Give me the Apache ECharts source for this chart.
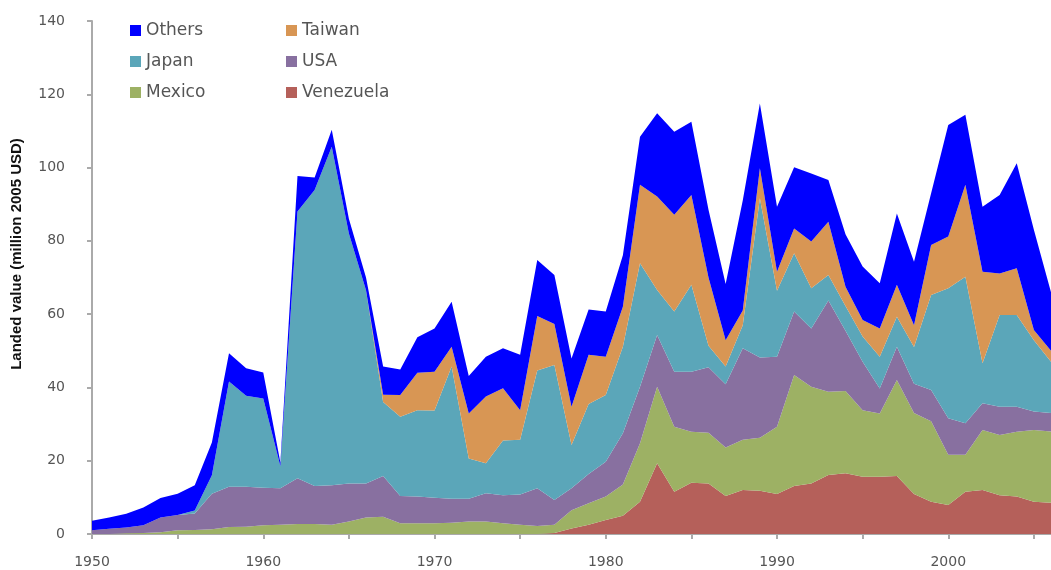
<!DOCTYPE html>
<html>
<head>
<meta charset="utf-8">
<script src="https://cdn.jsdelivr.net/npm/echarts@6/dist/echarts.min.js"></script>
<style>
  html, body { margin: 0; padding: 0; background: #fff; }
  #chart { width: 1051px; height: 570px; }
</style>
</head>
<body>
<div id="chart"></div>
<script>
// years 1950..2006 (2006 is cut off by the right edge)
var years = [];
for (var y = 1950; y <= 2006; y++) years.push(String(y));

// landed value, million 2005 USD
var venezuela = [0, 0, 0, 0, 0, 0, 0, 0, 0, 0,
  0, 0, 0, 0, 0, 0, 0, 0, 0, 0,
  0, 0, 0, 0, 0, 0, 0, 0.3, 1.5, 2.5,
  3.8, 5.0, 8.8, 19.3, 11.5, 14.0, 13.8, 10.4, 12.0, 11.8,
  10.9, 13.1, 13.8, 16.1, 16.6, 15.6, 15.6, 15.8, 10.9, 8.8,
  7.9, 11.5, 12.0, 10.6, 10.2, 8.8, 8.5];
var mexico = [0, 0, 0.2, 0.3, 0.5, 1.0, 1.1, 1.3, 1.9, 2.0,
  2.4, 2.5, 2.7, 2.7, 2.5, 3.4, 4.5, 4.7, 2.9, 2.9,
  2.9, 3.1, 3.4, 3.4, 2.9, 2.5, 2.2, 2.2, 5.0, 5.9,
  6.4, 8.5, 16.0, 20.9, 17.8, 13.9, 13.8, 13.2, 13.7, 14.5,
  18.4, 30.3, 26.4, 22.7, 22.4, 18.2, 17.3, 26.2, 22.1, 22.0,
  13.7, 10.1, 16.4, 16.4, 17.7, 19.6, 19.5];
var usa = [1.0, 1.4, 1.6, 2.1, 4.0, 4.2, 4.5, 9.7, 11.0, 10.9,
  10.2, 10.0, 12.5, 10.4, 10.8, 10.4, 9.3, 11.1, 7.5, 7.3,
  7.0, 6.5, 6.2, 7.7, 7.7, 8.3, 10.3, 6.8, 6.0, 8.0,
  9.5, 14.0, 15.4, 14.1, 15.0, 16.4, 17.9, 17.3, 25.0, 21.9,
  19.1, 17.3, 15.9, 24.9, 16.5, 13.2, 6.8, 9.1, 8.0, 8.5,
  10.0, 8.6, 7.3, 7.7, 6.8, 5.0, 5.0];
var japan = [0, 0, 0, 0, 0, 0, 0.8, 5.0, 28.7, 24.8,
  24.4, 6.0, 72.8, 80.8, 92.4, 68.2, 52.7, 20.2, 21.6, 23.6,
  23.8, 36.1, 11.0, 8.2, 14.9, 14.9, 32.1, 36.8, 11.8, 19.1,
  18.2, 23.6, 33.7, 12.3, 16.4, 23.7, 5.9, 4.8, 6.3, 43.4,
  18.0, 15.9, 11.0, 7.0, 6.7, 6.9, 8.7, 8.2, 10.0, 25.9,
  35.5, 40.0, 10.9, 25.1, 25.1, 19.5, 14.0];
var taiwan = [0, 0, 0, 0, 0, 0, 0, 0, 0, 0,
  0, 0, 0, 0, 0, 0, 0, 2.0, 5.9, 10.2,
  10.6, 5.4, 12.3, 18.2, 14.3, 8.1, 14.9, 11.2, 10.4, 13.4,
  10.5, 10.9, 21.4, 25.5, 26.4, 24.5, 18.6, 7.2, 4.0, 8.2,
  5.2, 6.8, 12.7, 14.5, 5.3, 4.5, 7.7, 8.7, 6.0, 13.7,
  14.1, 25.1, 25.0, 11.3, 12.7, 2.8, 3.0];
var others = [2.6, 3.1, 3.7, 4.8, 5.3, 5.8, 6.9, 9.0, 7.7, 7.5,
  7.1, 1.0, 9.7, 3.4, 4.6, 4.0, 3.5, 7.7, 7.0, 9.7,
  11.8, 12.3, 10.2, 10.9, 10.9, 15.1, 15.3, 13.4, 13.2, 12.4,
  12.3, 14.1, 13.1, 22.7, 22.7, 20.0, 18.5, 15.3, 30.0, 17.7,
  17.7, 16.7, 18.6, 11.4, 14.3, 14.6, 12.3, 19.5, 17.3, 14.1,
  30.4, 19.1, 17.7, 21.4, 28.7, 27.3, 16.0];

var yTicks = [0, 20, 40, 60, 80, 100, 120, 140];

var names = ['Venezuela', 'Mexico', 'USA', 'Japan', 'Taiwan', 'Others'];
var values = [venezuela, mexico, usa, japan, taiwan, others];
var colors = ['#b5605a', '#9db164', '#8870a0', '#5ba6b9', '#d89654', '#0000ff'];

var series = names.map(function (n, i) {
    return {
        name: n,
        type: 'line',
        stack: 'total',
        data: values[i],
        symbol: 'none',
        lineStyle: { width: 0 },
        areaStyle: { color: colors[i], opacity: 1 },
        itemStyle: { color: colors[i] },
        emphasis: { disabled: true }
    };
});

var font = 'DejaVu Sans';
var legendText = { fontFamily: font, fontSize: 17, color: '#555' };

var chart = echarts.init(document.getElementById('chart'));
chart.setOption({
    animation: false,
    grid: { left: 92, top: 21, bottom: 36, right: -12 },
    legend: [{
        data: ['Others', 'Japan', 'Mexico'],
        orient: 'vertical', left: 125, top: 17,
        itemWidth: 11, itemHeight: 11, itemGap: 14,
        icon: 'rect', textStyle: legendText, selectedMode: false
    }, {
        data: ['Taiwan', 'USA', 'Venezuela'],
        orient: 'vertical', left: 281, top: 17,
        itemWidth: 11, itemHeight: 11, itemGap: 14,
        icon: 'rect', textStyle: legendText, selectedMode: false
    }],
    xAxis: {
        type: 'category',
        data: years,
        boundaryGap: false,
        axisLine: { lineStyle: { color: '#aaaaaa', width: 2 } },
        axisTick: { interval: 4, length: 5, lineStyle: { color: '#aaaaaa', width: 2 } },
        axisLabel: { interval: 9, margin: 21, fontFamily: font, fontSize: 14, color: '#555' }
    },
    yAxis: {
        type: 'value',
        min: yTicks[0],
        max: yTicks[yTicks.length - 1],
        interval: 20,
        splitLine: { show: false },
        axisLine: { show: true, lineStyle: { color: '#aaaaaa', width: 2 } },
        axisTick: { show: true, length: 5, lineStyle: { color: '#aaaaaa', width: 2 } },
        axisLabel: { margin: 27, fontFamily: font, fontSize: 14, color: '#555' }
    },
    graphic: [{
        type: 'text',
        x: 17, y: 254,
        rotation: Math.PI / 2,
        style: {
            text: 'Landed value (million 2005 USD)',
            fontFamily: 'Liberation Sans', fontWeight: 'bold', fontSize: 15,
            fill: '#111', align: 'center', verticalAlign: 'middle'
        }
    }],
    series: series
});
</script>
</body>
</html>
